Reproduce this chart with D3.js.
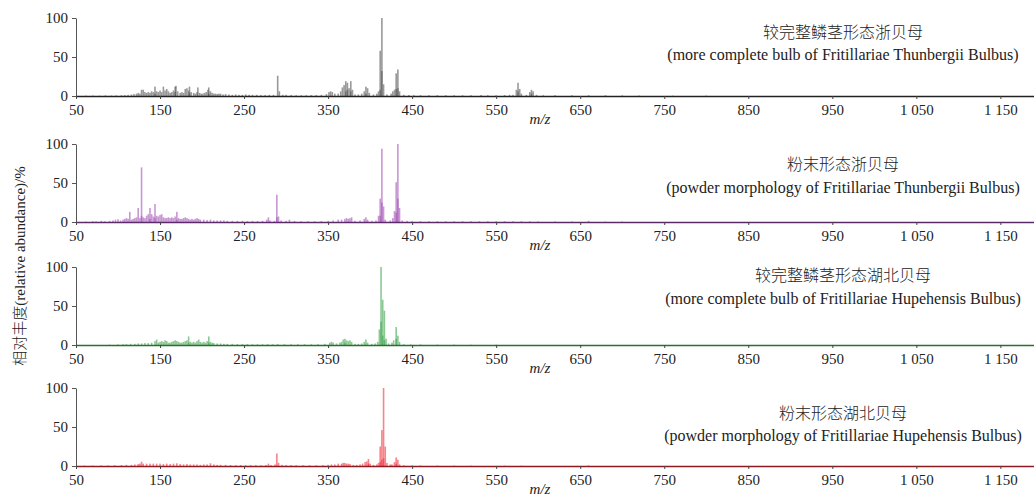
<!DOCTYPE html>
<html>
<head>
<meta charset="utf-8">
<script src="https://cdn.jsdelivr.net/npm/d3@7"></script>
<style>
	body { margin: 0; background: #fff; }
	text { font-family: "Liberation Serif", "Times New Roman", serif; fill: #222; }
	.cjk { font-family: "Noto Sans CJK SC", sans-serif; font-weight: 300; }
	.axis text { font-size: 15px; }
</style>
</head>
<body>
<script>
// data //{{{
var mz_ticks = [50, 150, 250, 350, 450, 550, 650, 750, 850, 950, 1050, 1150];
var y_ticks = [0, 50, 100];

var names_cn = ["较完整鳞茎形态浙贝母", "粉末形态浙贝母", "较完整鳞茎形态湖北贝母", "粉末形态湖北贝母"];
var names_en = [
	"(more complete bulb of Fritillariae Thunbergii Bulbus)",
	"(powder morphology of Fritillariae Thunbergii Bulbus)",
	"(more complete bulb of Fritillariae Hupehensis Bulbus)",
	"(powder morphology of Fritillariae Hupehensis Bulbus)"
];

// [m/z, relative abundance %]
var peaks_tb_bulb = [[62,0.5],[70,0.6],[78,0.5],[85,0.8],[92,0.6],[98,0.8],[104,1],[108,1.2],[112,1.5],[116,2],[119,2.5],[122,3],[124,4],[126,3],[128,8],[130,8],[132,5],[134,4],[136,5],[138,4],[140,6],[142,5],[144,12],[146,6],[148,5],[150,7],[152,5],[154,12],[156,7],[158,9],[160,6],[162,4],[164,5],[166,7],[168,12],[169,13],[171,6],[174,4],[176,5],[178,4],[180,9],[182,10],[184,7],[185,12],[187,5],[190,4],[192,3],[194,5],[195,11],[197,4],[199,3],[201,3],[203,4],[205,5],[207,8],[208,11],[210,6],[212,4],[214,3],[216,3],[218,2.5],[220,3],[222,3],[225,2],[228,2.5],[232,2],[236,1.5],[240,2],[244,1.5],[248,1.5],[252,2],[256,1.5],[260,1.5],[265,1.5],[270,1.2],[275,1.2],[280,1.5],[285,1.5],[290,26],[292,6],[296,1.5],[300,1.5],[306,1.2],[312,1],[318,1],[324,1],[330,1.2],[336,1.2],[342,1.5],[348,2.5],[351,5],[353,6],[355,5],[358,3],[362,3],[365,6],[367,11],[369,14],[371,19],[373,17],[375,10],[377,19],[379,8],[382,2],[386,2],[390,3],[393,6],[395,12],[397,10],[399,4],[404,2],[408,3],[410,6],[412,58],[414,100],[416,15],[420,2],[425,3],[427,6],[429,8],[431,29],[433,34],[435,6],[440,1.5],[446,1.2],[452,1],[460,1],[470,1],[480,1],[490,1],[500,1],[510,1],[520,1],[532,1.2],[540,1],[550,1],[560,1.2],[566,1.5],[570,1.5],[574,8],[576,17],[578,9],[580,3],[586,1.5],[590,5],[592,8],[594,6],[598,1.5],[606,1],[620,1],[640,1],[660,1],[680,1],[700,0.8],[720,0.6],[760,0.5],[800,0.5]];
var core_tb_bulb = [[414,32],[412,8],[431,9],[433,10],[371,6],[373,8],[377,6],[395,3],[576,6],[592,3],[168,5],[185,4],[144,3],[208,3]];

var peaks_tb_powder = [[62,0.5],[70,1],[74,0.8],[80,1.5],[84,1],[90,1.5],[94,2],[97,3],[100,3.5],[103,2],[106,3],[108,4],[110,5],[112,4],[114,13],[116,3],[118,4],[120,5],[122,6],[124,18],[126,5],[128,70],[130,6],[132,5],[134,8],[136,10],[138,18],[140,10],[142,7],[144,23],[146,8],[148,7],[150,9],[152,10],[154,6],[156,5],[158,5],[160,6],[162,5],[164,6],[166,5],[168,7],[170,13],[172,5],[174,4],[176,4],[178,5],[180,6],[182,5],[184,4],[186,3],[188,4],[190,3],[192,4],[194,5],[196,4],[198,3],[202,3],[206,2.5],[210,3],[214,2],[218,2],[222,2],[226,2],[230,1.5],[236,1.5],[242,1.5],[248,1.5],[254,1.2],[260,1.5],[266,1.2],[272,1.5],[277,3],[279,6],[281,2],[286,1.5],[289,35],[291,7],[294,2],[300,1.5],[304,3],[310,1.2],[318,1],[326,1],[334,1],[342,1.2],[350,1.5],[356,2],[362,3],[366,3],[370,4],[372,5],[374,4],[376,5],[378,6],[382,1.5],[388,2],[393,4],[395,6],[397,3],[402,1.5],[407,2],[410,8],[412,30],[414,94],[416,20],[418,3],[424,2],[427,5],[429,14],[431,51],[433,100],[435,18],[438,2],[444,1.5],[450,1],[460,1],[470,1],[480,1],[490,1],[500,1],[510,1],[520,1],[530,1],[540,1],[550,1],[560,1],[570,1],[580,1],[590,1],[600,0.8],[620,0.8],[640,0.8],[660,1.5],[680,0.6],[700,0.6]];
var core_tb_powder = [[128,8],[144,5],[138,4],[170,3],[289,6],[412,8],[414,25],[431,12],[433,30]];

var peaks_hb_bulb = [[90,0.5],[100,0.8],[106,1],[110,1.2],[115,1.5],[120,1.5],[124,2],[128,2],[132,2.5],[136,2.5],[140,3],[144,5],[146,7],[148,3],[150,4],[152,5],[154,4],[156,6],[158,5],[160,3],[162,3],[164,4],[166,5],[168,6],[170,5],[172,4],[174,3],[176,3],[178,4],[180,5],[182,6],[184,11],[186,4],[188,3],[190,4],[192,3],[194,5],[196,7],[198,4],[200,3],[202,4],[204,3],[206,5],[208,11],[210,4],[212,3],[214,2.5],[218,2],[222,2],[226,1.5],[230,1.5],[236,1.5],[242,1.2],[248,1.2],[254,1.2],[260,1],[266,1],[272,1],[278,1.2],[284,1],[290,1.2],[298,1],[306,1],[314,1],[322,1],[330,1],[338,1],[346,1.5],[352,3],[354,4],[356,3],[360,2],[364,3],[366,4],[368,7],[370,8],[372,6],[374,5],[376,6],[378,4],[382,1.5],[386,1.5],[390,2],[393,4],[395,7],[397,3],[402,1.5],[406,2],[409,4],[411,20],[413,100],[415,58],[417,44],[419,8],[422,2],[426,3],[428,6],[431,23],[433,12],[435,4],[440,1],[448,0.8],[460,0.8],[480,0.6],[500,0.6],[520,0.5],[550,0.5]];
var core_hb_bulb = [[413,30],[415,12],[417,6],[431,8],[184,3],[208,3],[370,3]];

var peaks_hb_powder = [[60,0.5],[70,0.6],[80,0.8],[88,0.8],[96,1],[104,1.2],[110,1.5],[116,1.5],[120,2],[124,2.5],[126,3],[128,5.5],[130,3],[134,3],[138,3],[142,3],[146,3],[150,3],[154,2.5],[158,3],[162,2.5],[166,3],[170,3.5],[174,2.5],[178,2],[182,2.5],[186,2],[190,2],[194,2],[198,1.5],[202,2],[206,2],[210,3.5],[214,2],[218,1.5],[222,1.5],[228,1.5],[234,1.2],[240,1.2],[246,1.2],[252,1],[258,1],[264,1],[270,1],[276,1.2],[279,3],[282,1.2],[287,2],[289,16],[291,4],[295,1.5],[300,1.2],[306,1.2],[312,1],[320,1],[328,1],[336,1],[344,1.2],[350,1.5],[354,2],[358,2],[362,3],[366,3],[368,4],[370,4],[372,3],[374,3],[376,2.5],[380,1.5],[384,1.5],[388,2],[391,3],[394,5],[396,6],[398,9],[400,3],[404,1.5],[408,2],[410,4],[412,25],[414,46],[416,100],[418,25],[420,4],[424,2],[426,2],[429,5],[431,11],[433,8],[435,2],[440,1],[450,0.8],[460,0.8],[480,0.6],[500,0.6],[520,0.5],[560,0.5],[580,0.5],[660,0.8]];
var core_hb_powder = [[416,10],[414,8],[412,5],[398,3],[431,3]];
//}}}
// layout //{{{
var W = 1034, H = 497;
var panels = [
	{ peaks: peaks_tb_bulb,   core: core_tb_bulb,   color: "#555555", axis: "#222222", base: 96,  cn: -63, en: -41 },
	{ peaks: peaks_tb_powder, core: core_tb_powder, color: "#a352b5", axis: "#5b2a68", base: 222, cn: -57, en: -34 },
	{ peaks: peaks_hb_bulb,   core: core_hb_bulb,   color: "#3fa34d", axis: "#2a6e33", base: 345, cn: -69, en: -46 },
	{ peaks: peaks_hb_powder, core: core_hb_powder, color: "#f2303e", axis: "#8c1c22", base: 466, cn: -52, en: -30 }
];
var ph = 78; // panel height (0..100)
var x = d3.scaleLinear().domain([50, 1190]).range([76, 1034]);
var locale = d3.formatLocale({ decimal: ".", thousands: " ", grouping: [3], currency: ["", ""] });
var fmt = locale.format(",");
//}}}
var svg = d3.select("body").append("svg").attr("width", W).attr("height", H);

panels.forEach(function(p, i) { //{{{
	var y = d3.scaleLinear().domain([0, 100]).range([p.base, p.base - ph]);
	var g = svg.append("g").attr("class", "panel");

	var bw = 1.6;
	[p.peaks, p.core].forEach(function(set) {
		g.append("g").selectAll("rect").data(set).join("rect")
			.attr("x", d => x(d[0]) - bw / 2)
			.attr("y", d => y(d[1]))
			.attr("width", bw)
			.attr("height", d => y(0) - y(d[1]))
			.attr("fill", p.color)
			.attr("fill-opacity", 0.6);
	});

	var gx = g.append("g").attr("class", "axis")
		.attr("transform", "translate(0," + p.base + ")")
		.call(d3.axisBottom(x).tickValues(mz_ticks).tickFormat(fmt).tickSize(3).tickSizeOuter(0).tickPadding(5));
	gx.select(".domain").attr("stroke", p.axis).attr("stroke-width", 1.3);
	gx.selectAll(".tick line").attr("stroke", "#444");
	gx.selectAll("text").attr("fill", "#222");

	var gy = g.append("g").attr("class", "axis")
		.attr("transform", "translate(76,0)")
		.call(d3.axisLeft(y).tickValues(y_ticks).tickSize(4).tickSizeOuter(0).tickPadding(4));
	gy.select(".domain").attr("stroke", "#555");
	gy.selectAll(".tick line").attr("stroke", "#555");
	gy.selectAll("text").attr("fill", "#222");

	g.append("text")
		.attr("x", 540).attr("y", p.base + 28)
		.attr("text-anchor", "middle")
		.style("font-size", "15px").style("font-style", "italic")
		.text("m/z");

	g.append("text").attr("class", "cjk")
		.attr("x", 843).attr("y", p.base + p.cn + 5)
		.attr("text-anchor", "middle")
		.style("font-size", "16px")
		.text(names_cn[i]);
	g.append("text")
		.attr("x", 843).attr("y", p.base + p.en + 5)
		.attr("text-anchor", "middle")
		.style("font-size", "16px")
		.text(names_en[i]);
});
//}}}
// y title //{{{
var yt = svg.append("text")
	.attr("transform", "translate(25,266) rotate(-90)")
	.attr("text-anchor", "middle")
	.style("font-size", "15px");
yt.append("tspan").attr("class", "cjk").text("相对丰度");
yt.append("tspan").text("(relative abundance)/%");
//}}}
</script>
</body>
</html>
